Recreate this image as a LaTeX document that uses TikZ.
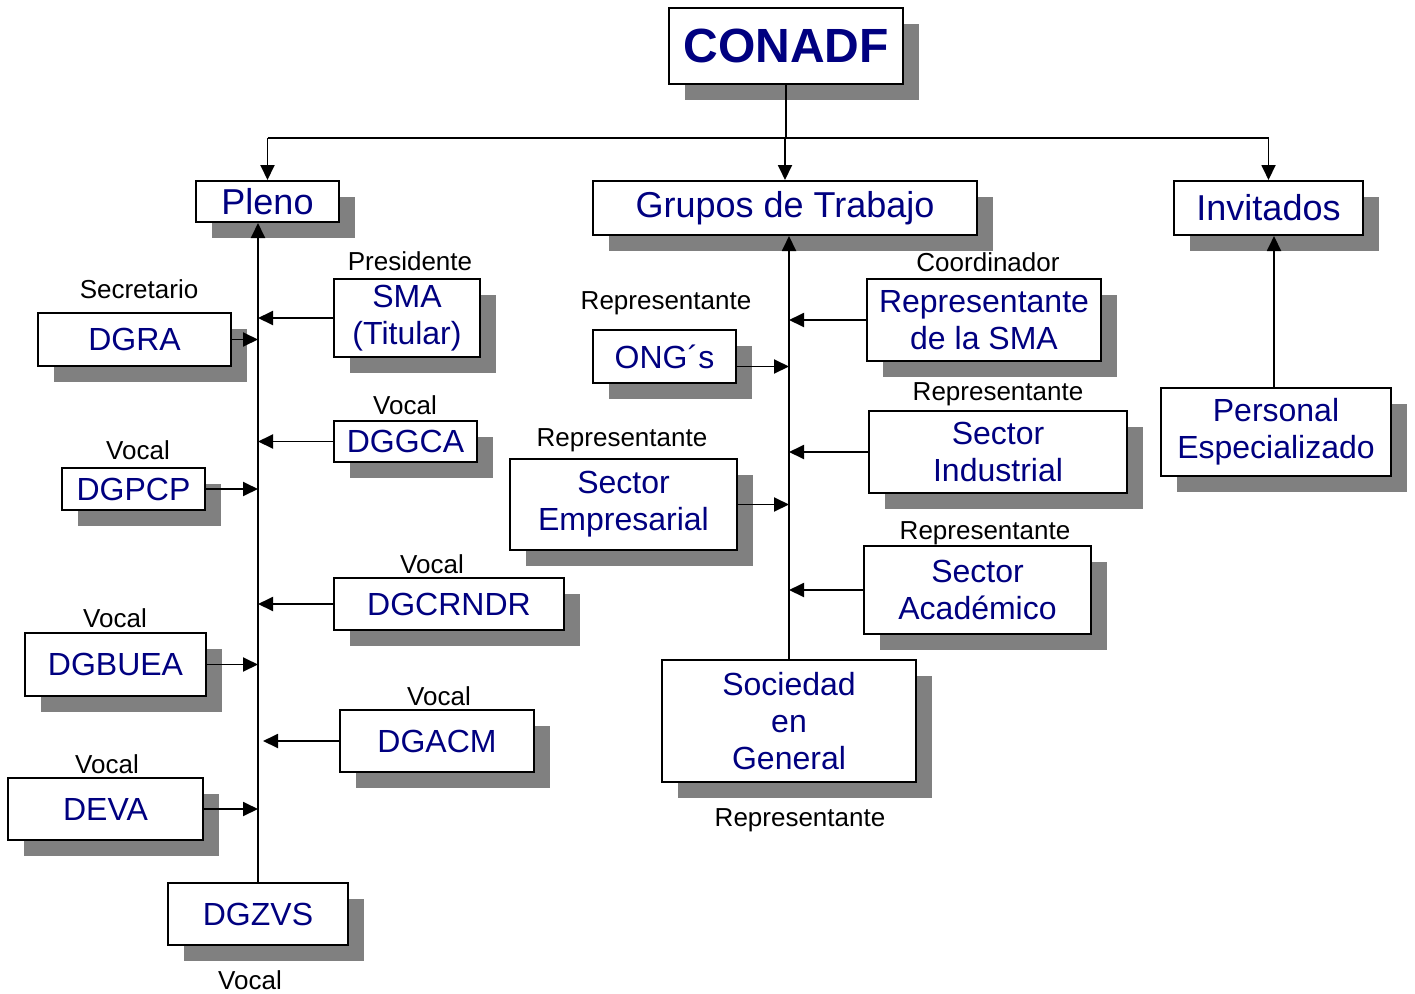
\documentclass[tikz,border=0pt]{standalone}
\usepackage{fontspec}
\setmainfont{Liberation Sans}
\usetikzlibrary{arrows.meta,shadows}
\definecolor{navy}{rgb}{0,0,0.5}
\definecolor{shade}{rgb}{0.5,0.5,0.5}

\tikzset{
  unit/.style={draw, line width=2pt, fill=white, text=navy, align=center, inner sep=0pt,
    font=\fontsize{32}{37}\selectfont,
    drop shadow={shadow xshift=16pt, shadow yshift=-16pt, fill=shade, opacity=1}},
  head/.style={unit, font=\fontsize{36}{40}\selectfont},
  role/.style={anchor=base, font=\fontsize{26}{30}\selectfont},
  tip/.style={-{Triangle[length=15pt,width=14pt]}, line width=1.9pt},
  link/.style={line width=1.9pt},
}

\begin{document}
\begin{tikzpicture}[x=1pt, y=-1pt]
%      \draw [help lines] (0,0) grid[step=50] (1415,993);
      \useasboundingbox (0,0) rectangle (1415,993);

      % top
      \node [unit, minimum width=234, minimum height=76, font=\bfseries\fontsize{48}{52}\selectfont] (conadf) at (786,46) {CONADF};
      \node [head, minimum width=143, minimum height=41] (pleno) at (267.5,201.5) {Pleno};
      \node [head, minimum width=384, minimum height=54] (grupos) at (785,208) {Grupos de Trabajo};
      \node [head, minimum width=189, minimum height=54] (invitados) at (1268.5,208) {Invitados};
      \coordinate (hub) at (786,138);

      % pleno
      \node [unit, minimum width=146, minimum height=78] (sma) at (407,318) {SMA\\(Titular)};
      \node [unit, minimum width=193, minimum height=53] (dgra) at (134.5,339.5) {DGRA};
      \node [unit, minimum width=143, minimum height=41] (dggca) at (405.5,441.5) {DGGCA};
      \node [unit, minimum width=143, minimum height=42] (dgpcp) at (133.5,489) {DGPCP};
      \node [unit, minimum width=230, minimum height=52] (dgcrndr) at (449,604) {DGCRNDR};
      \node [unit, minimum width=181, minimum height=63] (dgbuea) at (115.5,664.5) {DGBUEA};
      \node [unit, minimum width=194, minimum height=62] (dgacm) at (437,741) {DGACM};
      \node [unit, minimum width=195, minimum height=62] (deva) at (105.5,809) {DEVA};
      \node [unit, minimum width=180, minimum height=62] (dgzvs) at (258,914) {DGZVS};

      % grupos de trabajo
      \node [unit, minimum width=143, minimum height=53] (ong) at (664.5,356.5) {ONG´s};
      \node [unit, minimum width=234, minimum height=82] (repsma) at (984,320) {Representante\\de la SMA};
      \node [unit, minimum width=227, minimum height=91] (empresarial) at (623.5,504.5) {Sector\\Empresarial};
      \node [unit, minimum width=258, minimum height=82] (industrial) at (998,452) {Sector\\Industrial};
      \node [unit, minimum width=227, minimum height=88] (academico) at (977.5,590) {Sector\\Académico};
      \node [unit, minimum width=254, minimum height=122] (sociedad) at (789,721) {Sociedad\\en\\General};

      % invitados
      \node [unit, minimum width=230, minimum height=88] (personal) at (1276,432) {Personal\\Especializado};

      % roles
      \foreach \x/\y/\t [count=\i] in {139/298/Secretario, 410/270/Presidente, 405/414/Vocal,
          138/459/Vocal, 432/573/Vocal, 115/627/Vocal, 439/705/Vocal, 107/773/Vocal, 250/989/Vocal,
          666/309/Representante, 988/271/Coordinador, 622/446/Representante,
          998/400/Representante, 985/539/Representante, 800/826/Representante}
        \node [role] (role\i) at (\x,\y) {\t};

      % connectors
      \draw [link] (conadf) -- (hub);
      \draw [link] (pleno.north |- hub) -- (invitados.north |- hub);
      \foreach \b in {pleno, grupos, invitados} \draw [tip] (\b.north |- hub) -- (\b.north);

      \draw [tip] (dgzvs.north) -- (dgzvs.north |- pleno.south);
      \foreach \b in {dgra, dgpcp, dgbuea, deva} \draw [tip] (\b.east) -- (\b.east -| dgzvs.north);
      \foreach \b in {sma, dggca, dgcrndr} \draw [tip] (\b.west) -- (\b.west -| dgzvs.north);
      \draw [tip, shorten >=5pt] (dgacm.west) -- (dgacm.west -| dgzvs.north);

      \draw [tip] (sociedad.north) -- (sociedad.north |- grupos.south);
      \draw [tip] ([yshift=-10pt]ong.east) -- ([yshift=-10pt]ong.east -| sociedad.north);
      \draw [tip] (empresarial.east) -- (empresarial.east -| sociedad.north);
      \foreach \b in {repsma, industrial, academico} \draw [tip] (\b.west) -- (\b.west -| sociedad.north);

      \draw [tip] ([xshift=-2pt]personal.north) -- ([xshift=-2pt]personal.north |- invitados.south);
    \end{tikzpicture}
\end{document}
